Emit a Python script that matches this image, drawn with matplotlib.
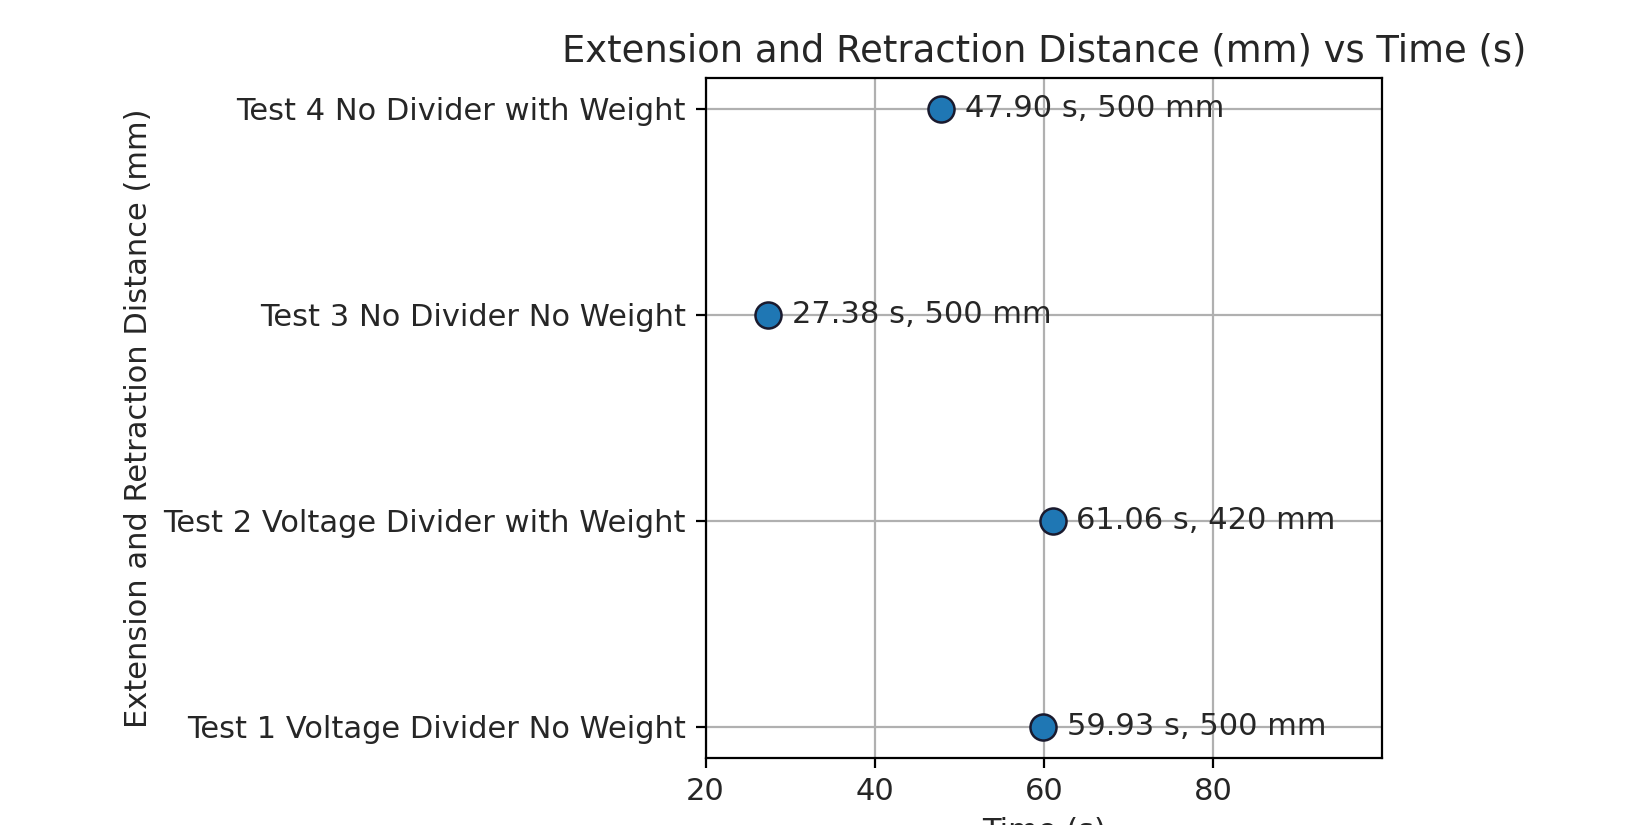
import matplotlib
matplotlib.use("Agg")
import matplotlib.pyplot as plt

categories = ["Test 1 Voltage Divider No Weight",
              "Test 2 Voltage Divider with Weight",
              "Test 3 No Divider No Weight",
              "Test 4 No Divider with Weight"]
times = [59.93, 61.06, 27.38, 47.90]
distances = [500, 420, 500, 500]
xticks = [20, 40, 60, 80]

plt.rcParams["font.size"] = 11
plt.rcParams["text.color"] = "#262626"
plt.rcParams["xtick.labelcolor"] = "#262626"
plt.rcParams["ytick.labelcolor"] = "#262626"
plt.rcParams["axes.labelcolor"] = "#262626"

fig = plt.figure(figsize=(8.17, 4.125), dpi=200)
ax = fig.add_axes([0.4318, 0.0817, 0.8458 - 0.4318, 0.9055 - 0.0817])
ypos = list(range(len(categories)))
ax.scatter(times, ypos, s=88, color="#1f77b4", edgecolors="#1a1a2e", linewidths=0.9, zorder=3)
for t, y, d in zip(times, ypos, distances):
    ax.annotate(f"{t:.2f} s, {d} mm", (t, y), xytext=(8.5, 0), textcoords="offset points",
                va="center", ha="left", fontsize=11)
ax.set_yticks(ypos)
ax.set_yticklabels(categories)
ax.set_xlim(20, 100)
ax.set_xticks(xticks)
ax.grid(True, color="#b0b0b0", linewidth=0.8)
ax.set_axisbelow(True)
ax.set_title("Extension and Retraction Distance (mm) vs Time (s)", fontsize=13.3)
ax.set_xlabel("Time (s)")
ax.set_ylabel("Extension and Retraction Distance (mm)")
fig.savefig("out.png", dpi=200)
